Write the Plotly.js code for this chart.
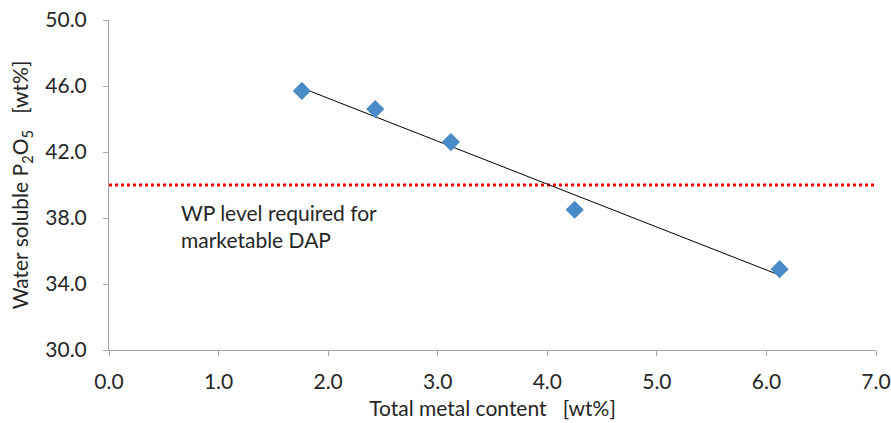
<!DOCTYPE html>
<html>
<head>
<meta charset="utf-8">
<script src="https://cdn.plot.ly/plotly-3.0.1.min.js"></script>
<style>html,body{margin:0;padding:0;background:#fff;}#chart{width:891px;height:423px;}</style>
</head>
<body>
<div id="chart"></div>
<script>
// Data
const metalContent = [1.76, 2.43, 3.12, 4.25, 6.12];      // Total metal content [wt%]
const waterSolubleP2O5 = [45.7, 44.6, 42.6, 38.5, 34.9];   // Water soluble P2O5 [wt%]
const wpLevel = 40.0;                                      // required WP level
const wpLineX = [0, 7];
const xTicks = [0, 1, 2, 3, 4, 5, 6, 7];
const yTicks = [30, 34, 38, 42, 46, 50];
const annotationLines = ["WP level required for", "marketable DAP"];

// Linear trendline (least squares) from the data
function linFit(xs, ys) {
  const n = xs.length;
  const mx = xs.reduce((a, b) => a + b, 0) / n;
  const my = ys.reduce((a, b) => a + b, 0) / n;
  let sxy = 0, sxx = 0;
  for (let i = 0; i < n; i++) { sxy += (xs[i] - mx) * (ys[i] - my); sxx += (xs[i] - mx) ** 2; }
  const b = sxy / sxx;
  return { slope: b, intercept: my - b * mx };
}
const fit = linFit(metalContent, waterSolubleP2O5);
const trendX = [Math.min(...metalContent), Math.max(...metalContent)];
const trendY = trendX.map(x => fit.intercept + fit.slope * x);

const FONT = "Lato, 'Open Sans', sans-serif";
const TXT = "#262626";

const traces = [
  { x: wpLineX, y: wpLineX.map(() => wpLevel), mode: "lines",
    line: { color: "#ff0000", width: 3, dash: "dot" }, hoverinfo: "skip", showlegend: false },
  { x: trendX, y: trendY, mode: "lines",
    line: { color: "#000000", width: 1 }, hoverinfo: "skip", showlegend: false },
  { x: metalContent, y: waterSolubleP2O5, mode: "markers",
    marker: { symbol: "diamond", size: 14, color: "#4a8ac6" }, showlegend: false }
];

const layout = {
  width: 891, height: 423,
  margin: { l: 109, r: 15, t: 20, b: 73 },
  paper_bgcolor: "#ffffff", plot_bgcolor: "#ffffff",
  font: { family: FONT, color: TXT, size: 20 },
  showlegend: false,
  xaxis: {
    range: [0, 7], tickvals: xTicks, ticktext: xTicks.map(v => v.toFixed(1)),
    showgrid: false, zeroline: false, showline: true, linecolor: "#a6a6a6", linewidth: 1,
    ticks: "outside", ticklen: 5, tickcolor: "#a6a6a6", ticklabelstandoff: 8,
    tickfont: { family: FONT, size: 21, color: TXT },
    title: { text: "Total metal content&nbsp;&nbsp;&nbsp;[wt%]", font: { family: FONT, size: 21, color: TXT }, standoff: 9 }
  },
  yaxis: {
    range: [30, 50], tickvals: yTicks, ticktext: yTicks.map(v => v.toFixed(1)),
    showgrid: false, zeroline: false, showline: true, linecolor: "#a6a6a6", linewidth: 1,
    ticks: "outside", ticklen: 5, tickcolor: "#a6a6a6", ticklabelstandoff: 12,
    tickfont: { family: FONT, size: 21, color: TXT },
    title: { text: "Water soluble P<sub>2</sub>O<sub>5</sub>&nbsp;&nbsp;&nbsp;[wt%]", font: { family: FONT, size: 21, color: TXT }, standoff: 10 }
  },
  annotations: [{
    xref: "x", yref: "y", x: 0.64, y: 37.5, xanchor: "left", yanchor: "middle",
    text: annotationLines.join("<br>"), showarrow: false, align: "left",
    font: { family: FONT, size: 21, color: TXT }
  }]
};

Plotly.newPlot("chart", traces, layout, { displayModeBar: false, staticPlot: true });
</script>
</body>
</html>
